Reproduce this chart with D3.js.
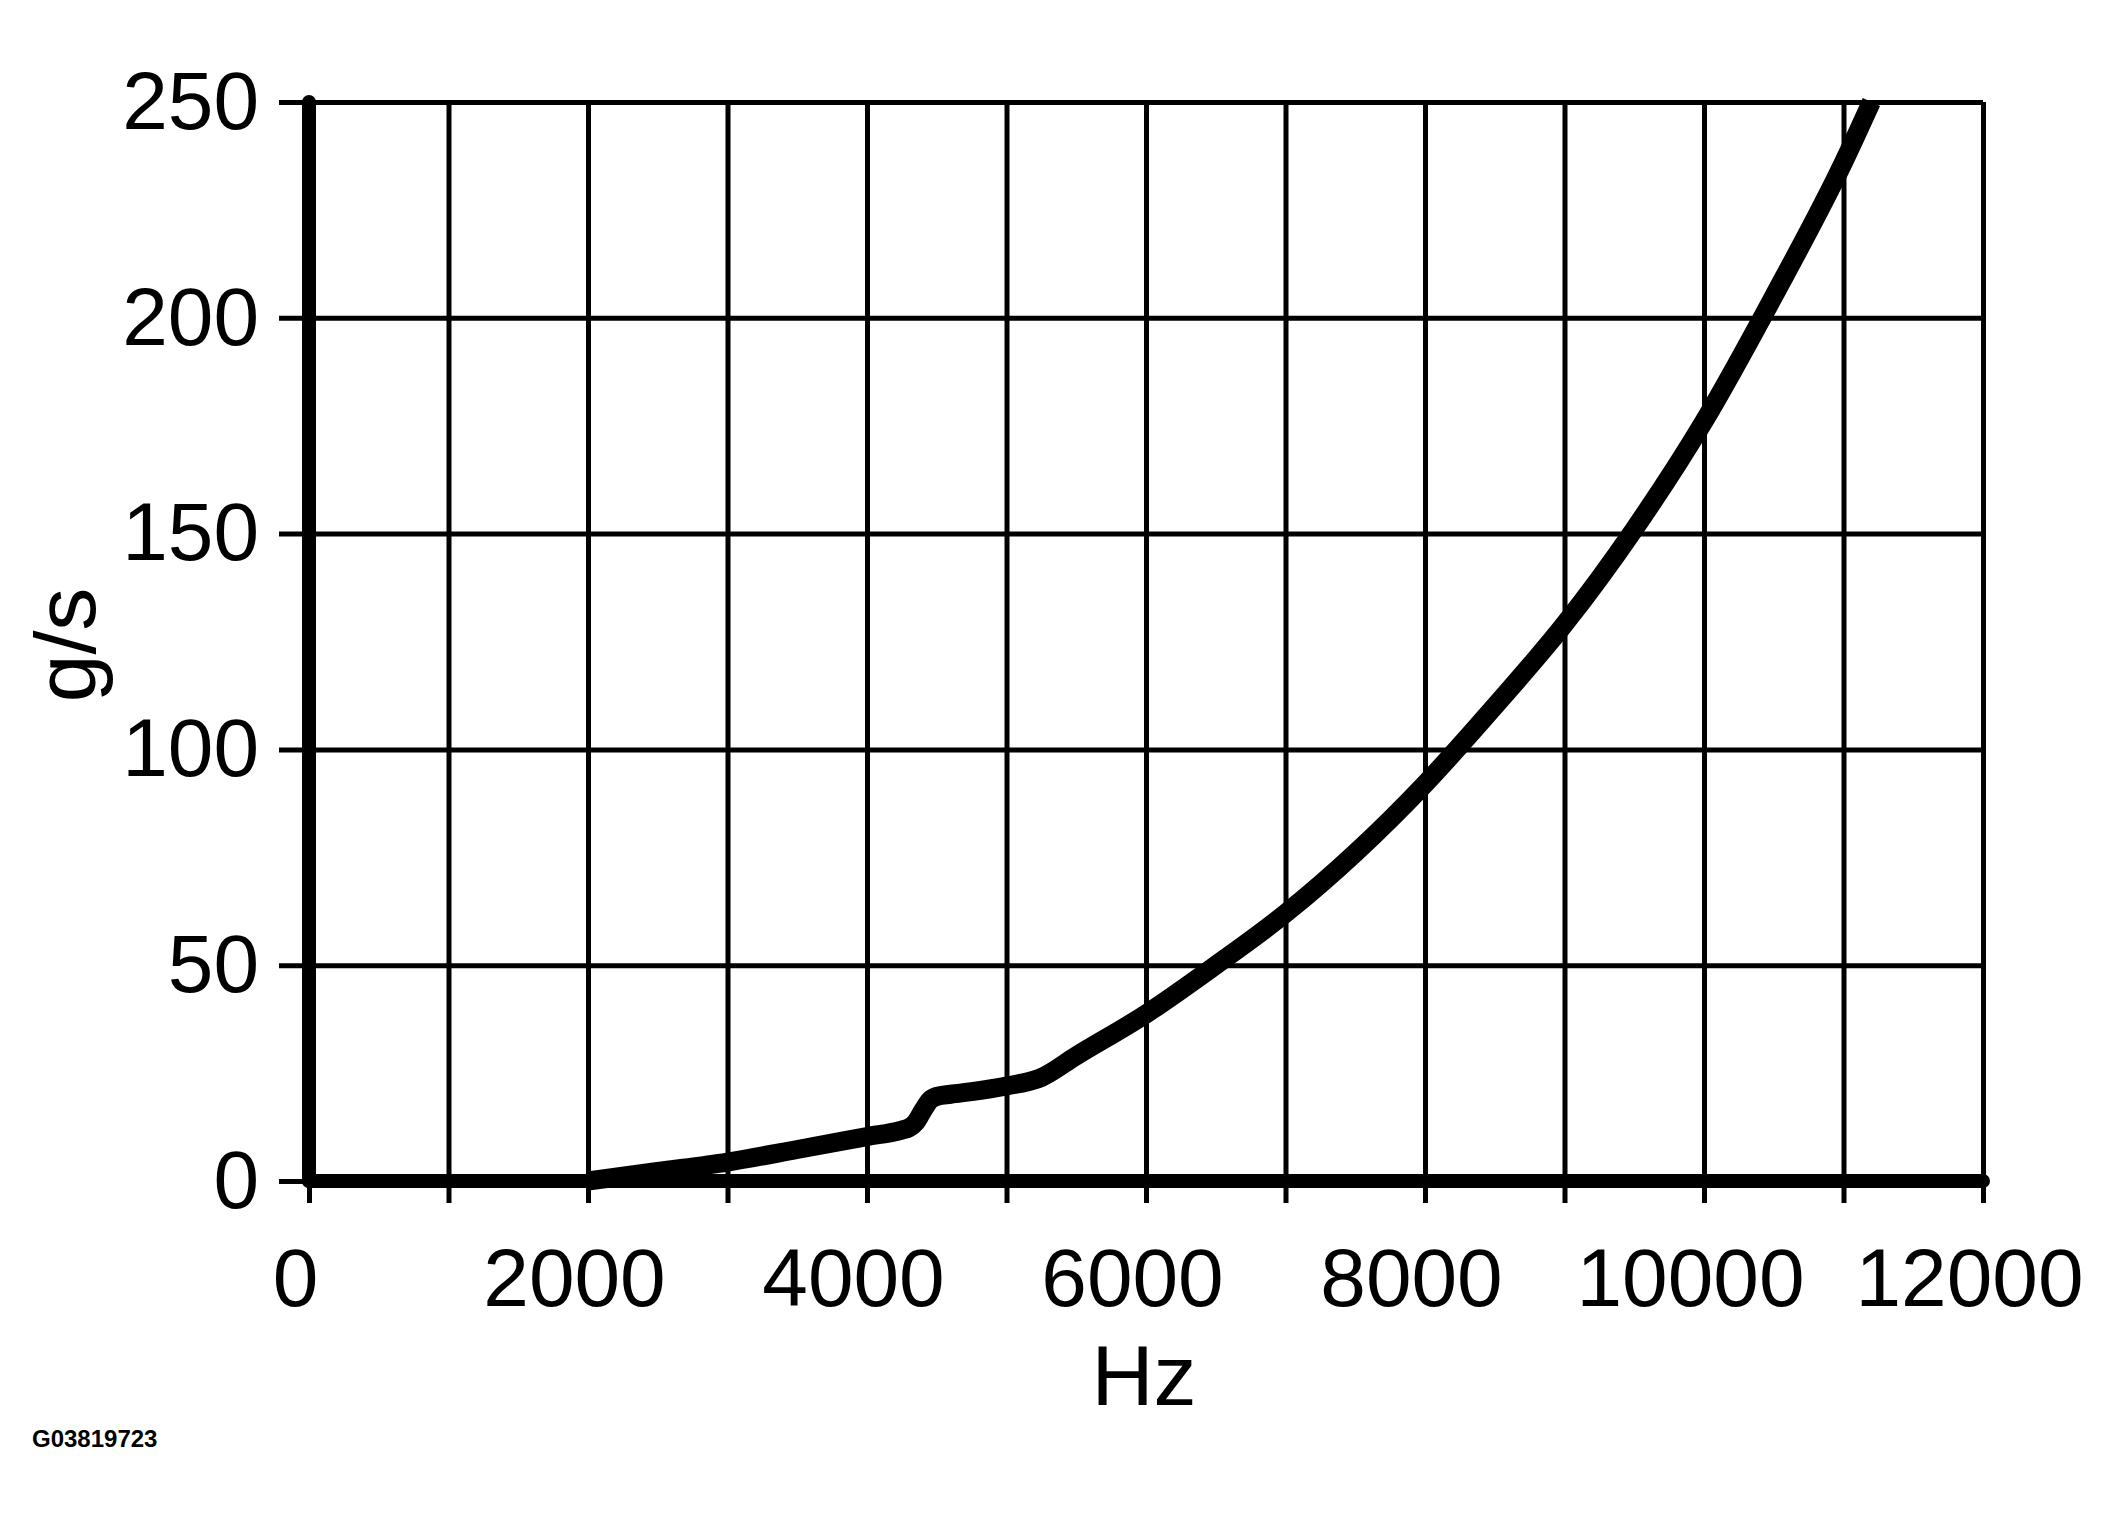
<!DOCTYPE html>
<html>
<head>
<meta charset="utf-8">
<script src="https://cdn.jsdelivr.net/npm/d3@7"></script>
<style>
  body { margin: 0; background: #fff; }
  svg { display: block; }
  text { font-family: "Liberation Sans", Arial, sans-serif; fill: #000; }
</style>
</head>
<body>
<svg id="chart" width="2124" height="1524"></svg>
<script>
// readings of the curve off the picture (Hz vs g/s)
var hz = [2000, 2500, 3000, 3500, 4000, 4250, 4300, 4350, 4400, 4450, 4500, 4600, 4750, 5000, 5250, 5500, 6000, 6500, 7000, 7500, 8000, 8500, 9000, 9500, 10000, 10500, 11000, 11200];
var gs = [0, 2.2, 4.4, 7.3, 10.3, 11.8, 12.3, 13.6, 16.3, 18.7, 19.6, 20.1, 20.7, 22, 24, 29, 38.7, 50, 62, 76, 92, 110, 129, 151, 176, 205, 236, 250];

var xTicks = [0, 2000, 4000, 6000, 8000, 10000, 12000];
var xGrid = [0, 1000, 2000, 3000, 4000, 5000, 6000, 7000, 8000, 9000, 10000, 11000, 12000];
var yTicks = [0, 50, 100, 150, 200, 250];

var xTitle = "Hz";
var yTitle = "g/s";
var figId = "G03819723";

var svg = d3.select("#chart");
svg.append("rect").attr("width", 2124).attr("height", 1524).attr("fill", "#fff");

var x = d3.scaleLinear().domain([0, 12000]).range([309, 1983]);
var y = d3.scaleLinear().domain([0, 250]).range([1181, 102]);

var left = 279, bottom = 1203;

// vertical grid lines, running on below the axis as ticks
svg.append("g")
    .attr("transform", "translate(0," + y(250) + ")")
    .call(d3.axisBottom(x).tickValues(xGrid).tickSize(bottom - y(250)).tickFormat(""))
    .call(function(g) { g.select(".domain").remove(); })
    .selectAll("line").attr("stroke", "#000").attr("stroke-width", 5);

// x labels
svg.append("g")
    .attr("transform", "translate(0," + y(250) + ")")
    .call(d3.axisBottom(x).tickValues(xTicks).tickSize(bottom - y(250)).tickPadding(45).tickFormat(d3.format("d")))
    .call(function(g) { g.select(".domain").remove(); g.selectAll("line").remove(); })
    .selectAll("text")
    .attr("dx", -14)
    .attr("font-size", 82)
    .attr("font-family", "'Liberation Sans', Arial, sans-serif");

// horizontal grid lines with the ticks out to the left
svg.append("g")
    .attr("transform", "translate(" + x(12000) + ",0)")
    .call(d3.axisLeft(y).tickValues(yTicks).tickSize(x(12000) - left).tickPadding(20).tickFormat(d3.format("d")))
    .call(function(g) { g.select(".domain").remove(); })
    .call(function(g) { g.selectAll("line").attr("stroke", "#000").attr("stroke-width", 5); })
    .selectAll("text")
    .attr("font-size", 82)
    .attr("font-family", "'Liberation Sans', Arial, sans-serif");

// heavy axis lines
svg.append("line")
    .attr("x1", x(0)).attr("x2", x(0))
    .attr("y1", y(0)).attr("y2", y(250))
    .attr("stroke", "#000").attr("stroke-width", 14).attr("stroke-linecap", "round");
svg.append("line")
    .attr("x1", x(0)).attr("x2", x(12000))
    .attr("y1", y(0)).attr("y2", y(0))
    .attr("stroke", "#000").attr("stroke-width", 14).attr("stroke-linecap", "round");

// the curve
var pts = hz.map(function(d, i) { return [d, gs[i]]; });
var line = d3.line()
    .x(function(d) { return x(d[0]); })
    .y(function(d) { return y(d[1]); })
    .curve(d3.curveMonotoneX);

svg.append("path")
    .datum(pts)
    .attr("d", line)
    .attr("fill", "none")
    .attr("stroke", "#000")
    .attr("stroke-width", 19)
    .attr("stroke-linejoin", "round");

// titles
svg.append("text")
    .attr("x", 1144).attr("y", 1405)
    .attr("text-anchor", "middle")
    .attr("font-size", 86)
    .text(xTitle);

svg.append("text")
    .attr("transform", "translate(95," + 645 + ") rotate(-90)")
    .attr("text-anchor", "middle")
    .attr("font-size", 86)
    .text(yTitle);

svg.append("text")
    .attr("x", 32).attr("y", 1447)
    .attr("font-size", 24)
    .attr("font-weight", "bold")
    .text(figId);
</script>
</body>
</html>
